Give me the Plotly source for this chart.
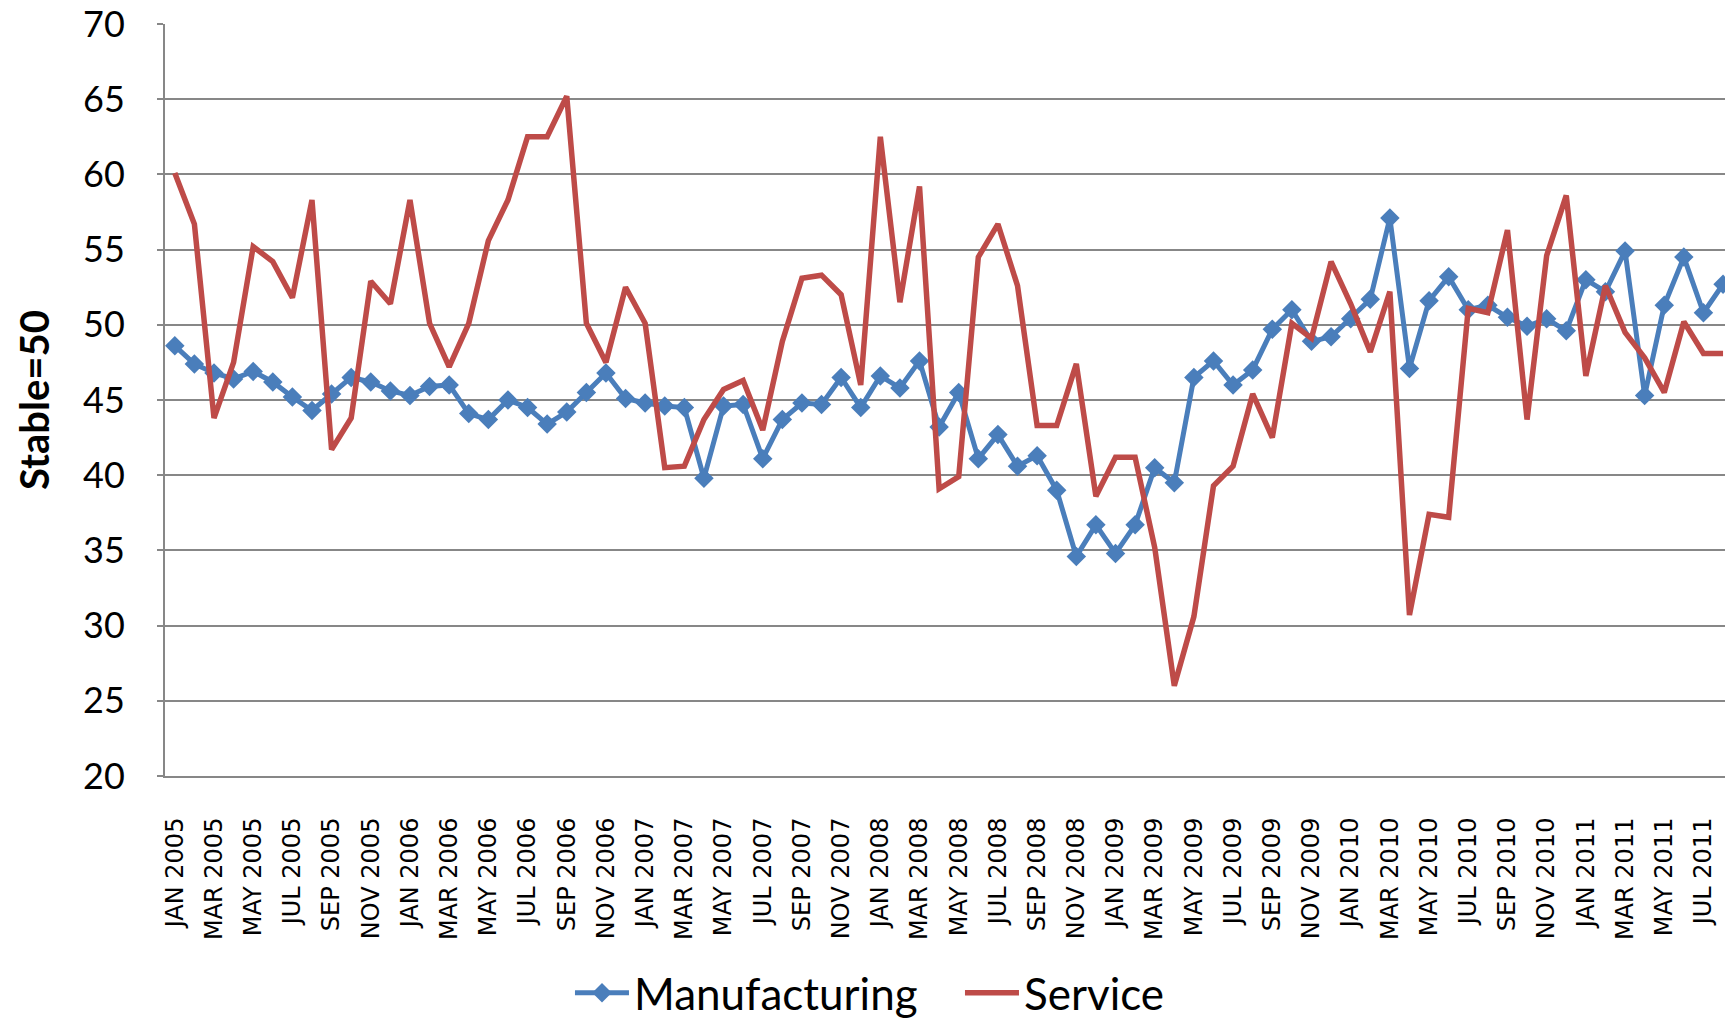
import plotly.graph_objects as go

# Monthly survey index readings, Jan 2005 - Aug 2011 (50 = stable)
month_names = ["JAN", "FEB", "MAR", "APR", "MAY", "JUN",
               "JUL", "AUG", "SEP", "OCT", "NOV", "DEC"]
years = [2005, 2006, 2007, 2008, 2009, 2010, 2011]
months = [f"{m} {y}" for y in years for m in month_names][:80]

manufacturing = [
    48.6, 47.4, 46.8, 46.4, 46.9, 46.2, 45.2, 44.3, 45.4, 46.5, 46.2, 45.6,
    45.3, 45.9, 46.0, 44.1, 43.7, 45.0, 44.5, 43.4, 44.2, 45.5, 46.8, 45.1,
    44.8, 44.6, 44.5, 39.8, 44.6, 44.7, 41.1, 43.7, 44.8, 44.7, 46.5, 44.5,
    46.6, 45.8, 47.6, 43.2, 45.5, 41.1, 42.7, 40.6, 41.3, 39.0, 34.6, 36.7,
    34.8, 36.7, 40.5, 39.5, 46.5, 47.6, 46.0, 47.0, 49.7, 51.0, 48.9, 49.2,
    50.4, 51.7, 57.1, 47.1, 51.6, 53.2, 51.0, 51.3, 50.5, 49.9, 50.4, 49.6,
    53.0, 52.2, 54.9, 45.3, 51.3, 54.5, 50.8, 52.7,
]

service = [
    60.1, 56.7, 43.8, 47.5, 55.2, 54.2, 51.8, 58.3, 41.7, 43.8, 52.9, 51.4,
    58.3, 50.1, 47.2, 50.1, 55.6, 58.3, 62.5, 62.5, 65.2, 50.1, 47.5, 52.5,
    50.1, 40.5, 40.6, 43.7, 45.7, 46.3, 43.0, 48.9, 53.1, 53.3, 52.0, 46.0,
    62.5, 51.5, 59.2, 39.1, 39.9, 54.5, 56.7, 52.6, 43.3, 43.3, 47.4, 38.6,
    41.2, 41.2, 35.2, 26.0, 30.6, 39.3, 40.6, 45.4, 42.5, 50.1, 49.1, 54.2,
    51.4, 48.2, 52.2, 30.7, 37.4, 37.2, 51.1, 50.8, 56.3, 43.7, 54.6, 58.6,
    46.6, 52.6, 49.5, 47.8, 45.5, 50.2, 48.1, 48.1,
]

y_ticks = [20, 25, 30, 35, 40, 45, 50, 55, 60, 65, 70]
x_tick_labels = months[::2]

BLUE = "#4A7EBB"
RED = "#BE4B48"
GRID = "#878787"

fig = go.Figure()
fig.add_trace(go.Scatter(
    x=months, y=manufacturing, name="Manufacturing",
    mode="lines+markers",
    line=dict(color=BLUE, width=5),
    marker=dict(symbol="diamond", size=15, color=BLUE),
))
fig.add_trace(go.Scatter(
    x=months, y=service, name="Service",
    mode="lines",
    line=dict(color=RED, width=5.5),
))

fig.update_layout(
    width=1725, height=1023,
    margin=dict(l=165, r=0, t=24, b=247, autoexpand=False),
    paper_bgcolor="white", plot_bgcolor="white",
    showlegend=True,
    legend=dict(
        orientation="h", x=0.2596, xanchor="left",
        y=-0.2886, yanchor="middle",
        font=dict(family="Lato", size=44, color="black"),
        bgcolor="rgba(0,0,0,0)",
        itemwidth=54, entrywidth=321,
    ),
    annotations=[dict(
        text="<b>Stable=50</b>", xref="paper", yref="paper",
        x=-0.084, y=0.5, xanchor="center", yanchor="middle",
        textangle=-90, showarrow=False,
        font=dict(family="Lato", size=40, color="black"),
    )],
)

fig.update_xaxes(
    type="category", categoryorder="array", categoryarray=months,
    range=[-0.5, 79.1], automargin=False,
    tickmode="array", tickvals=x_tick_labels, ticktext=x_tick_labels,
    tickangle=-90, ticks="", ticklabelstandoff=30,
    tickfont=dict(family="DejaVu Sans", size=24, color="black"),
    showgrid=False, showline=True, linecolor=GRID, linewidth=2,
    zeroline=False,
)
fig.update_yaxes(
    range=[20, 70], tickmode="array", tickvals=y_ticks, automargin=False,
    ticks="outside", ticklen=6, tickcolor=GRID, tickwidth=2,
    ticklabelstandoff=25,
    tickfont=dict(family="Lato", size=36, color="black"),
    showgrid=True, gridcolor=GRID, gridwidth=2,
    showline=True, linecolor=GRID, linewidth=2, zeroline=False,
)

fig.write_html("out.html")
